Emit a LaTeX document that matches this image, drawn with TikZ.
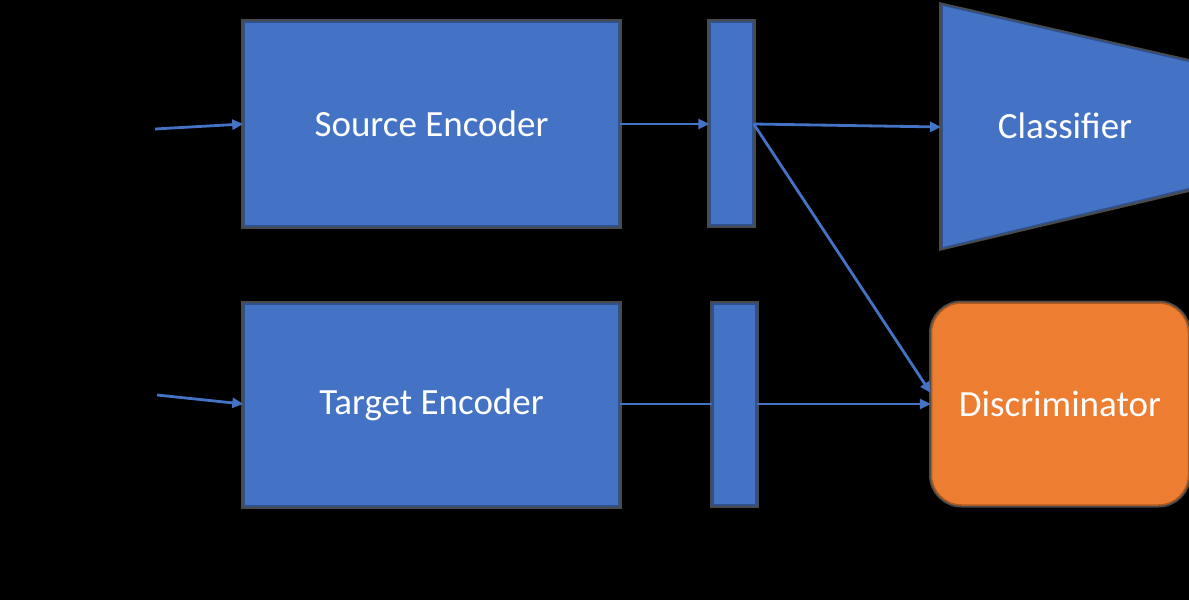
\documentclass[tikz,border=0pt]{standalone}
\usepackage{fontspec}
\setmainfont{Carlito}
\usetikzlibrary{arrows.meta}
\definecolor{boxblue}{HTML}{4472C4}
\definecolor{edgeblue}{HTML}{2F528F}
\definecolor{orangefill}{HTML}{ED7D31}
\definecolor{orangeedge}{HTML}{AE5A21}
\definecolor{halo}{HTML}{4A4A4A}
\tikzset{
  blockbox/.style={rectangle, fill=boxblue, draw=edgeblue, line width=1.5pt,
    preaction={draw=halo, line width=6pt}, text=white, inner sep=0pt,
    font=\fontsize{37}{40}\selectfont},
  discbox/.style={rectangle, rounded corners=30pt, fill=orangefill, draw=orangeedge, line width=1.5pt,
    preaction={draw=halo, line width=5pt}, text=white, inner sep=0pt,
    font=\fontsize{37}{40}\selectfont},
  conn/.style={draw=boxblue, line width=2.8pt, -{Triangle[length=11pt,width=10pt]}},
  plainconn/.style={draw=boxblue, line width=2.8pt},
}
\begin{document}
\begin{tikzpicture}[x=1pt,y=-1pt]
\fill[black] (0,0) rectangle (1189,600);
\useasboundingbox (0,0) rectangle (1189,600);
% classifier trapezoid
\fill[halo] (939,2) -- (1189,59) -- (1189,192) -- (939,251) -- cycle;
\filldraw[fill=boxblue, draw=edgeblue, line width=1.5pt] (942,5) -- (1192,62) -- (1192,188) -- (942,248) -- cycle;
\node[text=white, font=\fontsize{37}{40}\selectfont] (cls) at (1065,126) {Classifier};
\coordinate (clsin) at (941,127);
% blocks
\node[blockbox, minimum width=375pt, minimum height=204pt] (src) at (431.5,124) {Source Encoder};
\node[blockbox, minimum width=375pt, minimum height=202pt] (tgt) at (431.5,405) {Target Encoder};
\node[blockbox, minimum width=43pt, minimum height=203pt] (bar1) at (731.5,123.5) {};
\node[blockbox, minimum width=43pt, minimum height=201pt] (bar2) at (734.5,404.5) {};
\node[discbox, minimum width=257pt, minimum height=202pt] (disc) at (1060,404) {Discriminator};
% inputs
\coordinate (in1) at (155,129);
\coordinate (in2) at (157,395);
\draw[conn] (in1) -- (src.west |- 0,124);
\draw[conn] (in2) -- (tgt.west |- 0,404);
% connectors
\draw[conn] (src.east |- 0,124) -- (bar1.west |- 0,124);
\draw[conn] (bar1.east |- 0,124) -- (clsin);
\draw[conn] (bar1.east |- 0,124) -- ([yshift=11pt]disc.west);
\draw[plainconn] (tgt.east |- 0,404) -- (bar2.west |- 0,404);
\draw[conn] (bar2.east |- 0,404) -- (disc.west |- 0,404);
\end{tikzpicture}
\end{document}
